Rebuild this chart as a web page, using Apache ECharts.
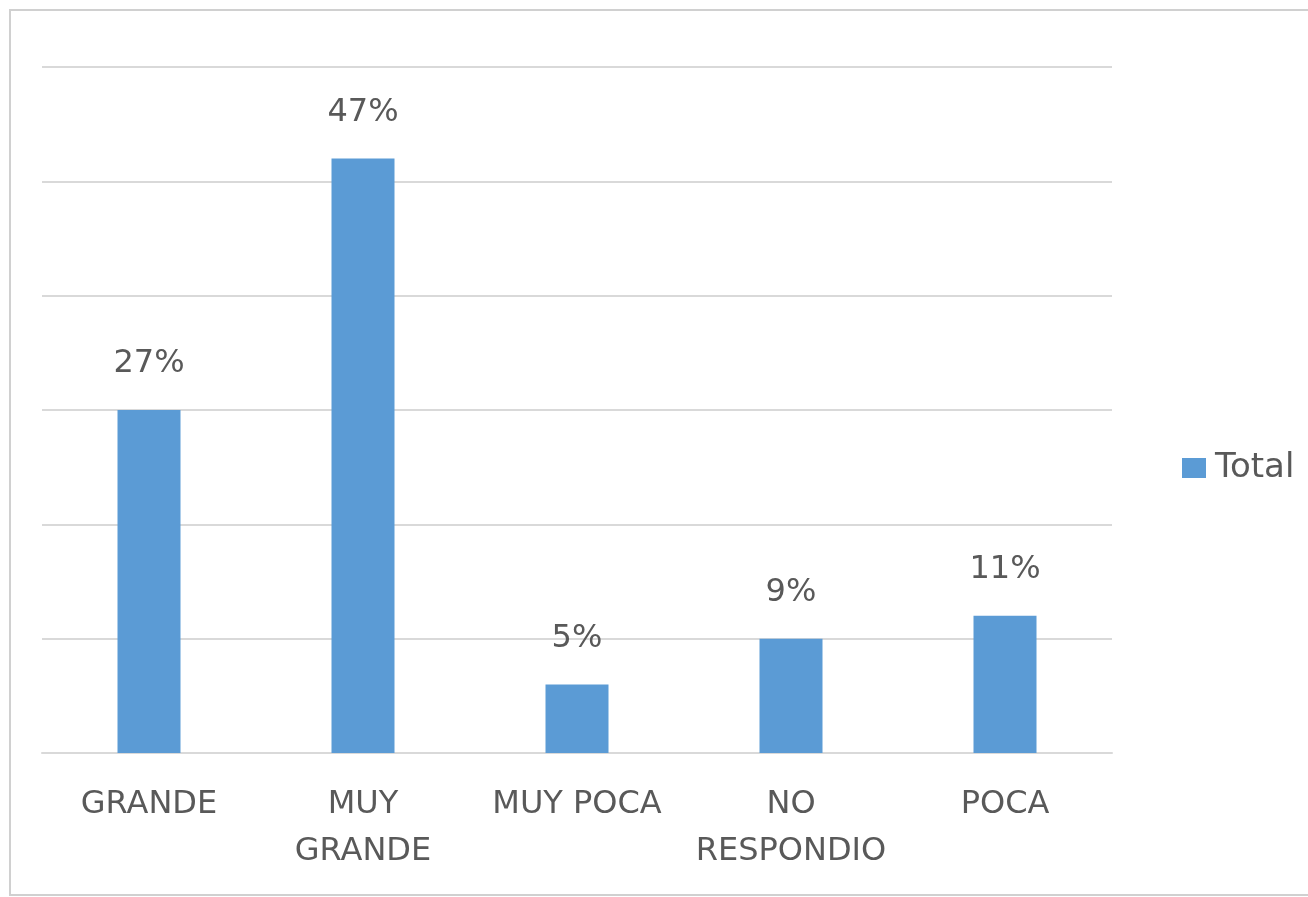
<!DOCTYPE html>
<html>
<head>
<meta charset="utf-8">
<script src="https://cdn.jsdelivr.net/npm/echarts@6/dist/echarts.min.js"></script>
<style>
  html, body { margin: 0; padding: 0; background: #fff; }
  #chart { width: 1308px; height: 897px; }
</style>
</head>
<body>
<div id="chart"></div>
<script>
// categorias del eje x
const categories = ['GRANDE', 'MUY\nGRANDE', 'MUY POCA', 'NO\nRESPONDIO', 'POCA'];
// conteos (altura de las barras)
const counts = [15, 26, 3, 5, 6];
// etiquetas de porcentaje sobre cada barra
const pctLabels = ['27%', '47%', '5%', '9%', '11%'];

const textColor = '#595959';
const font = 'DejaVu Sans';

let chart = echarts.init(document.getElementById('chart'));
let option = {
  backgroundColor: '#fff',
  animation: false,
  // marco del grafico
  graphic: [{
    type: 'rect',
    shape: { x: 10, y: 10, width: 1310, height: 885 },
    style: { fill: 'none', stroke: '#d0d0d0', lineWidth: 2 },
    silent: true
  }],
  legend: {
    data: ['Total'],
    orient: 'vertical',
    left: 1177,
    top: 446,
    itemWidth: 24,
    itemHeight: 20,
    itemGap: 8,
    icon: 'rect',
    textStyle: { color: textColor, fontSize: 34, fontFamily: font, padding: [0, 0, 0, 4] }
  },
  grid: {
    left: 42,
    right: 196,
    top: 67,
    bottom: 144,
    containLabel: false
  },
  xAxis: {
    type: 'category',
    data: categories,
    axisTick: { show: false },
    axisLine: { show: true, lineStyle: { color: '#d9d9d9', width: 2 } },
    axisLabel: {
      color: textColor,
      fontSize: 32,
      fontFamily: font,
      lineHeight: 47,
      margin: 28,
      interval: 0
    }
  },
  yAxis: {
    type: 'value',
    min: 0,
    max: 30,
    interval: 5,
    axisLabel: { show: false },
    axisTick: { show: false },
    axisLine: { show: false },
    splitLine: { show: true, lineStyle: { color: '#d9d9d9', width: 2 } }
  },
  series: [{
    name: 'Total',
    type: 'bar',
    data: counts,
    barWidth: 63,
    itemStyle: { color: '#5b9bd5' },
    label: {
      show: true,
      position: 'top',
      distance: 30,
      color: textColor,
      fontSize: 32,
      fontFamily: font,
      formatter: (p) => pctLabels[p.dataIndex]
    }
  }]
};
chart.setOption(option);
</script>
</body>
</html>
